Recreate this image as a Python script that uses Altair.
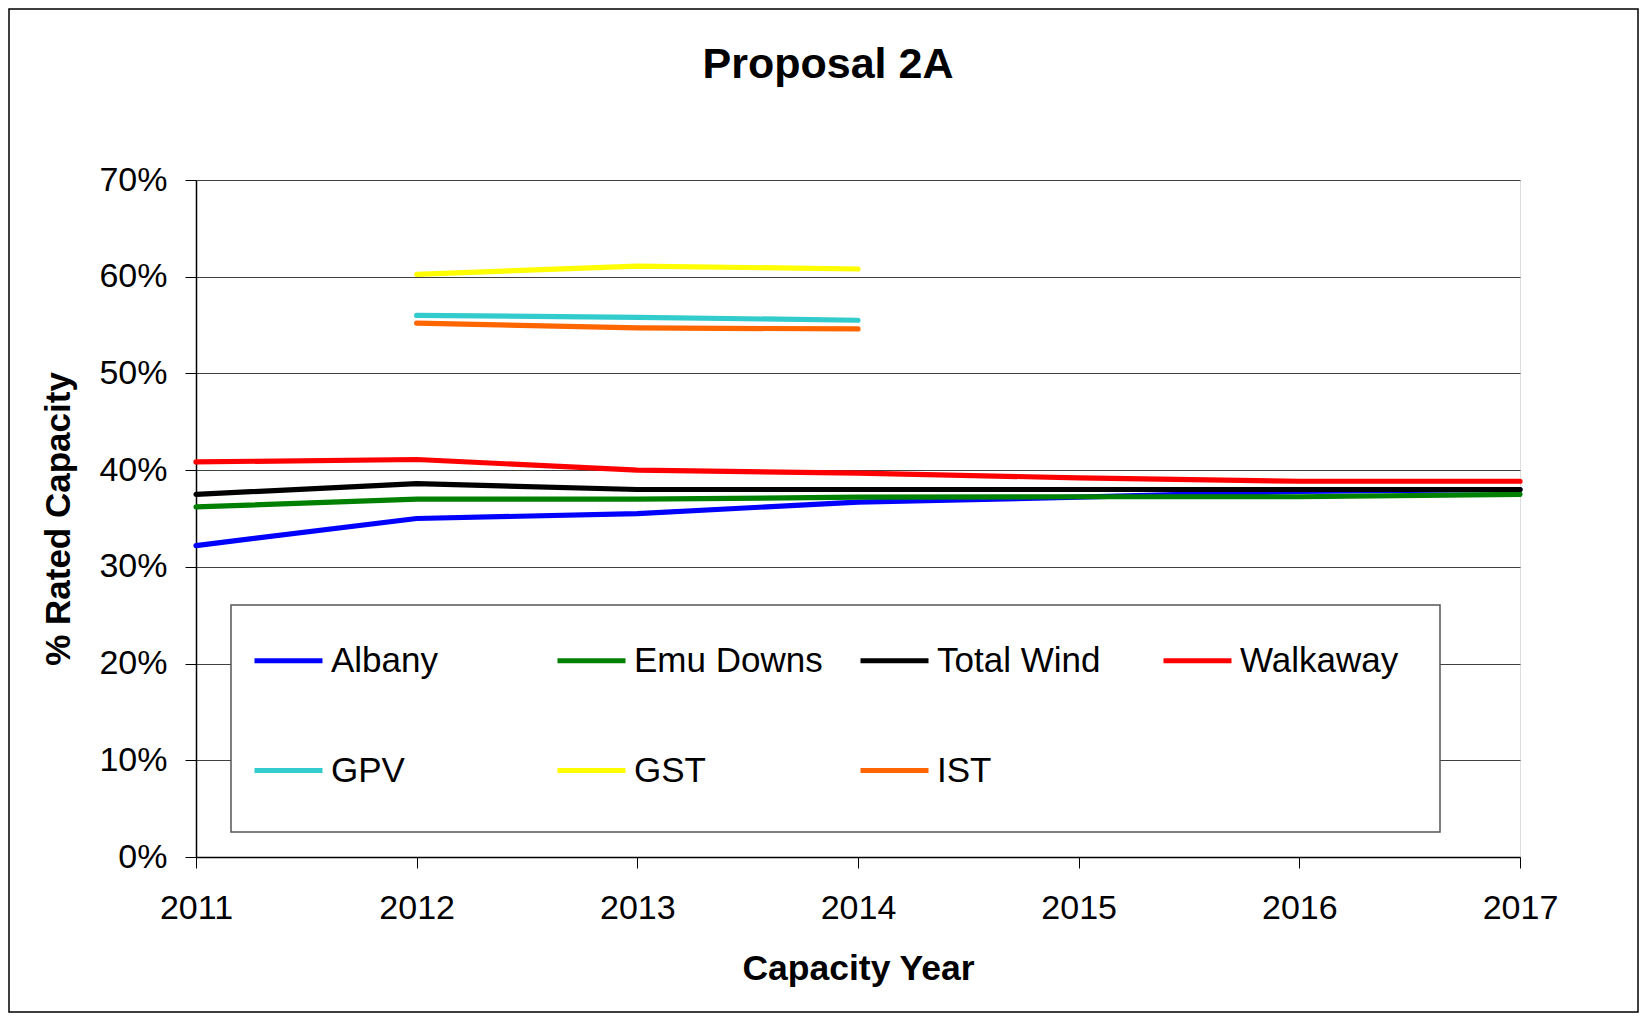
import altair as alt
import pandas as pd

years = [2011, 2012, 2013, 2014, 2015, 2016, 2017]
series_names = ["Albany", "Emu Downs", "Total Wind", "Walkaway", "GPV", "GST", "IST"]
series_colors = ["#0000FF", "#008000", "#000000", "#FF0000", "#33CCCC", "#FFFF00", "#FF6600"]

albany = [32.2, 35.0, 35.5, 36.7, 37.2, 37.8, 38.0]
emu_downs = [36.2, 37.0, 37.0, 37.2, 37.25, 37.25, 37.5]
total_wind = [37.5, 38.6, 38.0, 38.0, 38.0, 38.0, 38.0]
walkaway = [40.85, 41.1, 40.0, 39.7, 39.2, 38.85, 38.85]
short_years = [2012, 2013, 2014]
gpv = [56.0, 55.8, 55.5]
gst = [60.25, 61.1, 60.8]
ist = [55.2, 54.7, 54.6]

y_ticks = [0, 0.1, 0.2, 0.3, 0.4, 0.5, 0.6, 0.7]

rows = []
for name, ys, vals in [
    ("Albany", years, albany),
    ("Emu Downs", years, emu_downs),
    ("Total Wind", years, total_wind),
    ("Walkaway", years, walkaway),
    ("GPV", short_years, gpv),
    ("GST", short_years, gst),
    ("IST", short_years, ist),
]:
    for yr, v in zip(ys, vals):
        rows.append({"Year": yr, "Series": name, "Value": v / 100.0,
                     "Order": series_names.index(name)})
df = pd.DataFrame(rows)

FONT = "Liberation Sans"

lines = alt.Chart(df).mark_line(strokeWidth=5.2, strokeCap="round", strokeJoin="round").encode(
    x=alt.X("Year:Q",
            scale=alt.Scale(domain=[2011, 2017], nice=False, zero=False),
            axis=alt.Axis(values=years, format="d", title="Capacity Year",
                          grid=False, tickSize=11, tickColor="#000", domainColor="#000",
                          domainWidth=1.5, labelFontSize=34, labelPadding=23, labelFlush=False,
                          titleFontSize=35.5, titleFontWeight="bold", titlePadding=26,
                          labelFont=FONT, titleFont=FONT, labelColor="#000", titleColor="#000")),
    y=alt.Y("Value:Q",
            scale=alt.Scale(domain=[0, 0.7], nice=False),
            axis=alt.Axis(values=y_ticks, format=".0%", title="% Rated Capacity",
                          grid=True, gridColor="#404040", gridWidth=1.2,
                          tickSize=11, tickColor="#000", domainColor="#000", domainWidth=1.5,
                          labelFontSize=34, labelPadding=18, labelFlush=False,
                          titleFontSize=35, titleFontWeight="bold", titlePadding=22,
                          labelFont=FONT, titleFont=FONT, labelColor="#000", titleColor="#000")),
    color=alt.Color("Series:N",
                    scale=alt.Scale(domain=series_names, range=series_colors),
                    legend=alt.Legend(
                        orient="none", legendX=56, legendY=444, columns=4,
                        direction="horizontal",
                        title=None, symbolType="stroke", symbolSize=4624,
                        symbolStrokeWidth=5, labelFontSize=35, labelFont=FONT,
                        labelColor="#000", labelOffset=6, labelLimit=400, gridAlign="all",
                        columnPadding=27, rowPadding=55, padding=0)),
    order=alt.Order("Order:Q"),
    detail="Series:N",
)

frame = alt.Chart(alt.Data(values=[{}])).mark_rect(
    fillOpacity=0, stroke="#000000", strokeWidth=1.5
).encode(
    x=alt.value(-187), x2=alt.value(1442),
    y=alt.value(-171), y2=alt.value(832),
)

legend_box = alt.Chart(alt.Data(values=[{}])).mark_rect(
    fill="#FFFFFF", stroke="#555555", strokeWidth=1.5
).encode(
    x=alt.value(35), x2=alt.value(1244),
    y=alt.value(425), y2=alt.value(652),
)

chart = alt.layer(frame, legend_box, lines).properties(
    width=1324, height=677,
    title=alt.TitleParams("Proposal 2A", fontSize=43, fontWeight="bold", font=FONT,
                          anchor="middle", frame="group", dx=-30, dy=113, offset=0,
                          baseline="alphabetic", color="#000"),
    autosize=alt.AutoSizeParams(type="none"),
    padding={"left": 188, "top": 172, "right": 119, "bottom": 160},
).configure_view(
    fill="#C0C0C0", stroke="#808080", strokeWidth=2
).configure(background="#FFFFFF")

chart.save("out.html", embed_options={"renderer": "svg", "actions": False})
